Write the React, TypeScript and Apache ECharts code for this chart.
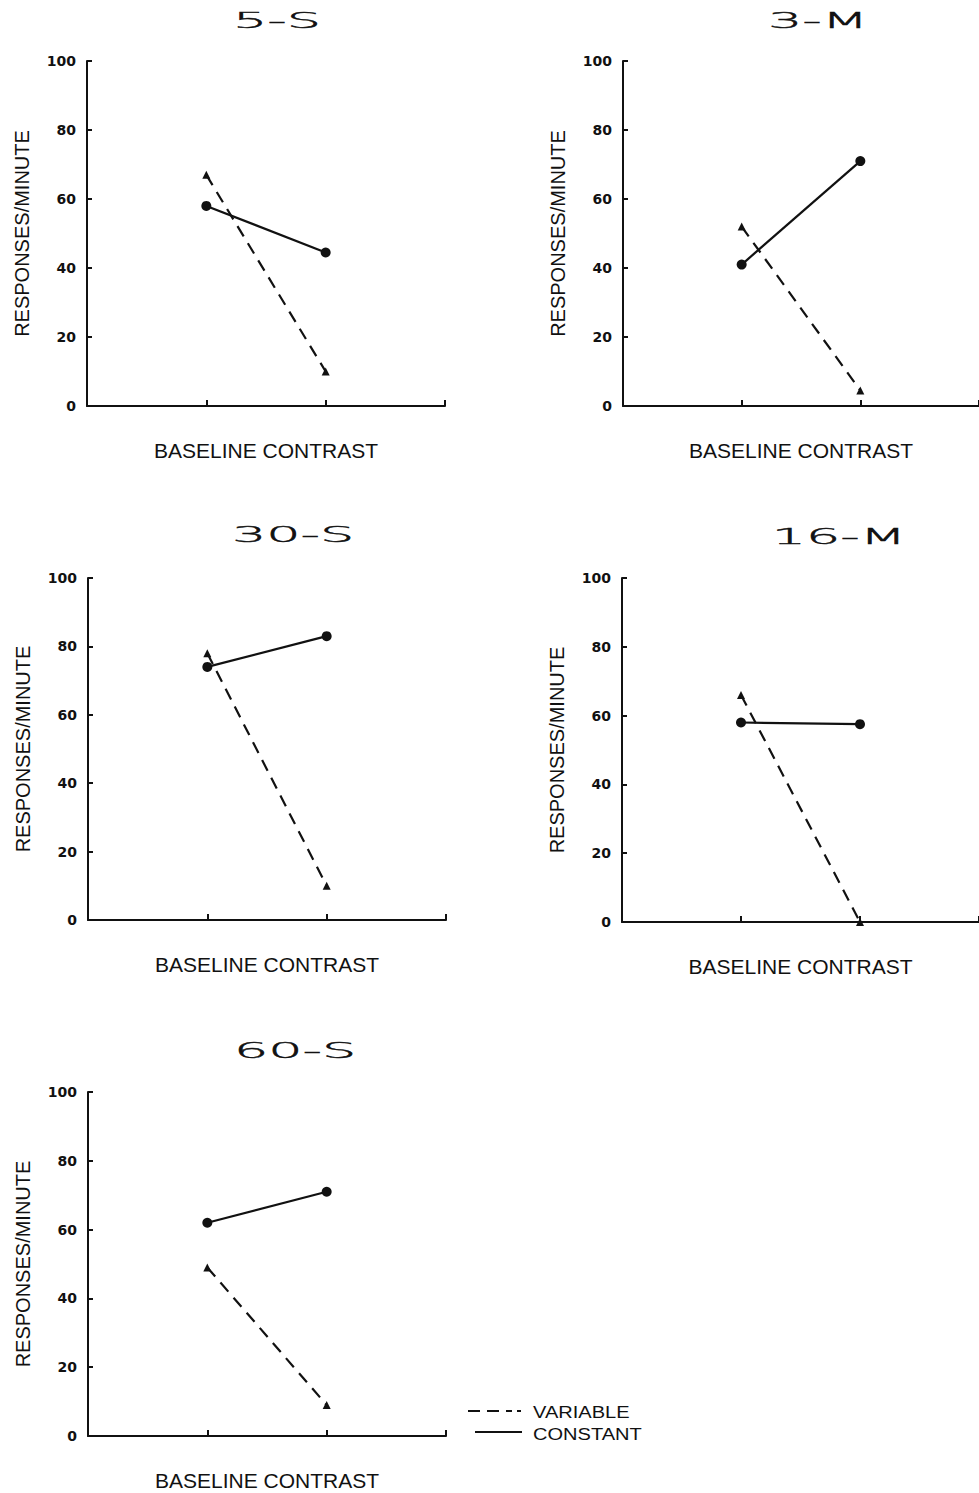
import React, { useEffect, useRef } from 'react';
import * as echarts from 'echarts';

// ---- data ----
const panelTitles = ['5-S', '3-M', '30-S', '16-M', '60-S'];
const conditionPositions = [1, 2];
const variableValues = [
  [67, 10],
  [52, 4.5],
  [78, 10],
  [66, 0],
  [49, 9],
];
const constantValues = [
  [58, 44.5],
  [41, 71],
  [74, 83],
  [58, 57.5],
  [62, 71],
];
const yMin = 0;
const yMax = 100;
const yInterval = 20;
const xMin = 0;
const xMax = 3;
const xAxisName = 'BASELINE CONTRAST';
const yAxisName = 'RESPONSES/MINUTE';
const legendLabels = ['VARIABLE', 'CONSTANT'];

// ---- layout ----
const panels = [
  { left: 87, top: 61, width: 358, height: 345, tx: 277, ty: 21 },
  { left: 623, top: 61, width: 366, height: 345, tx: 818, ty: 21 },
  { left: 88, top: 578, width: 358, height: 342, tx: 293, ty: 535 },
  { left: 622, top: 578, width: 366, height: 344, tx: 839, ty: 537 },
  { left: 88, top: 1092, width: 358, height: 344, tx: 295, ty: 1051 },
];

const INK = '#111';

export default function App() {
  const ref = useRef<HTMLDivElement>(null);

  useEffect(() => {
    if (!ref.current) return;
    const chart = echarts.init(ref.current, undefined, { renderer: 'svg' });

    const grid = panels.map((p) => ({
      left: p.left,
      top: p.top,
      width: p.width,
      height: p.height,
      containLabel: false,
    }));

    const xAxis = panels.map((_, i) => ({
      type: 'value',
      gridIndex: i,
      min: xMin,
      max: xMax,
      interval: 1,
      name: xAxisName,
      nameLocation: 'middle',
      nameGap: 34,
      nameTextStyle: {
        fontFamily: 'Liberation Sans, Arial, sans-serif',
        fontSize: 21,
        color: INK,
      },
      axisLine: { show: true, onZero: false, lineStyle: { color: INK, width: 2 } },
      axisTick: { show: true, inside: true, length: 6, lineStyle: { color: INK, width: 2 } },
      axisLabel: { show: false },
      splitLine: { show: false },
    }));

    const yAxis = panels.map((_, i) => ({
      type: 'value',
      gridIndex: i,
      min: yMin,
      max: yMax,
      interval: yInterval,
      name: yAxisName,
      nameLocation: 'middle',
      nameRotate: 90,
      nameGap: 55,
      nameTextStyle: {
        fontFamily: 'Liberation Sans, Arial, sans-serif',
        fontSize: 20,
        color: INK,
      },
      axisLine: { show: true, onZero: false, lineStyle: { color: INK, width: 2 } },
      axisTick: { show: true, inside: true, length: 5, lineStyle: { color: INK, width: 2 } },
      axisLabel: {
        show: true,
        margin: 11,
        fontFamily: 'DejaVu Sans, sans-serif',
        fontWeight: 'bold',
        fontSize: 14,
        color: INK,
      },
      splitLine: { show: false },
    }));

    const series: any[] = [];
    panels.forEach((_, i) => {
      series.push({
        name: legendLabels[0],
        type: 'line',
        xAxisIndex: i,
        yAxisIndex: i,
        data: conditionPositions.map((x, k) => [x, variableValues[i][k]]),
        symbol: 'triangle',
        symbolSize: 8,
        clip: false,
        itemStyle: { color: INK },
        lineStyle: { color: INK, width: 2.2, type: [12, 8] },
      });
      series.push({
        name: legendLabels[1],
        type: 'line',
        xAxisIndex: i,
        yAxisIndex: i,
        data: conditionPositions.map((x, k) => [x, constantValues[i][k]]),
        symbol: 'circle',
        symbolSize: 10,
        clip: false,
        itemStyle: { color: INK },
        lineStyle: { color: INK, width: 2.2, type: 'solid' },
      });
    });

    const titleGraphics = panels.map((p, i) => ({
      type: 'text',
      x: p.tx,
      y: p.ty,
      scaleX: 2.45,
      style: {
        text: panelTitles[i],
        fontFamily: 'DejaVu Sans, sans-serif',
        fontWeight: 200,
        fontSize: 22,
        fill: INK,
        stroke: INK,
        lineWidth: 0.45,
        align: 'center',
        verticalAlign: 'middle',
      },
    }));

    const legendGraphics = [
      {
        type: 'line',
        shape: { x1: 468, y1: 1411, x2: 512, y2: 1411 },
        style: { stroke: INK, lineWidth: 2, lineDash: [12, 7] },
      },
      {
        type: 'line',
        shape: { x1: 517, y1: 1411, x2: 521, y2: 1411 },
        style: { stroke: INK, lineWidth: 2 },
      },
      {
        type: 'text',
        x: 533,
        y: 1412,
        scaleX: 1.18,
        style: {
          text: legendLabels[0],
          fontFamily: 'Liberation Sans, Arial, sans-serif',
          fontSize: 17,
          fill: INK,
          align: 'left',
          verticalAlign: 'middle',
        },
      },
      {
        type: 'line',
        shape: { x1: 475, y1: 1432, x2: 522, y2: 1432 },
        style: { stroke: INK, lineWidth: 2 },
      },
      {
        type: 'text',
        x: 533,
        y: 1434,
        scaleX: 1.18,
        style: {
          text: legendLabels[1],
          fontFamily: 'Liberation Sans, Arial, sans-serif',
          fontSize: 17,
          fill: INK,
          align: 'left',
          verticalAlign: 'middle',
        },
      },
    ];

    chart.setOption({
      animation: false,
      backgroundColor: '#ffffff',
      grid,
      xAxis,
      yAxis,
      series,
      graphic: [...titleGraphics, ...legendGraphics],
    } as any);

    return () => {
      chart.dispose();
    };
  }, []);

  return (
    <div
      ref={ref}
      style={{ position: 'absolute', left: 0, top: 0, width: 979, height: 1493 }}
    />
  );
}
